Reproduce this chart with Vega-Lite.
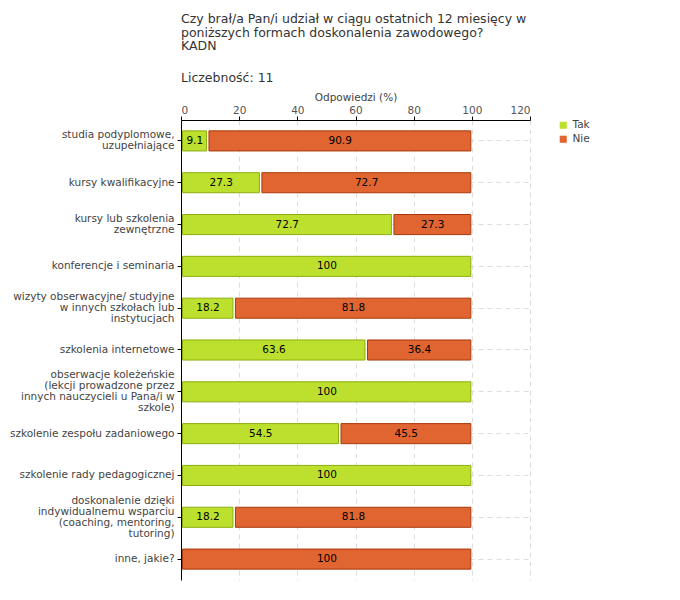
{
  "$schema": "https://vega.github.io/schema/vega-lite/v6.json",
  "autosize": {"type": "none"},
  "padding": {"left": 181, "top": 120, "right": 150, "bottom": 20},
  "width": 349,
  "height": 460,
  "background": "white",
  "config": {
    "font": "DejaVu Sans",
    "view": {"stroke": null}
  },
  "title": {
    "text": ["Czy brał/a Pan/i udział w ciągu ostatnich 12 miesięcy w", "poniższych formach doskonalenia zawodowego?", "\u00a0KADN"],
    "subtitle": "Liczebność: 11",
    "anchor": "start",
    "frame": "group",
    "font": "DejaVu Sans",
    "fontSize": 12.5,
    "fontWeight": "normal",
    "color": "#333333",
    "lineHeight": 13.5,
    "subtitleFont": "DejaVu Sans",
    "subtitleFontSize": 12.5,
    "subtitleColor": "#333333",
    "subtitlePadding": 19,
    "offset": 8
  },
  "data": {
    "values": [
      {"kategoria": "studia podyplomowe,|uzupełniające", "odpowiedz": "Tak", "kolejnosc": 1, "wartosc": 9.1},
      {"kategoria": "studia podyplomowe,|uzupełniające", "odpowiedz": "Nie", "kolejnosc": 2, "wartosc": 90.9},
      {"kategoria": "kursy kwalifikacyjne", "odpowiedz": "Tak", "kolejnosc": 1, "wartosc": 27.3},
      {"kategoria": "kursy kwalifikacyjne", "odpowiedz": "Nie", "kolejnosc": 2, "wartosc": 72.7},
      {"kategoria": "kursy lub szkolenia|zewnętrzne", "odpowiedz": "Tak", "kolejnosc": 1, "wartosc": 72.7},
      {"kategoria": "kursy lub szkolenia|zewnętrzne", "odpowiedz": "Nie", "kolejnosc": 2, "wartosc": 27.3},
      {"kategoria": "konferencje i seminaria", "odpowiedz": "Tak", "kolejnosc": 1, "wartosc": 100},
      {"kategoria": "wizyty obserwacyjne/ studyjne|w innych szkołach lub|instytucjach", "odpowiedz": "Tak", "kolejnosc": 1, "wartosc": 18.2},
      {"kategoria": "wizyty obserwacyjne/ studyjne|w innych szkołach lub|instytucjach", "odpowiedz": "Nie", "kolejnosc": 2, "wartosc": 81.8},
      {"kategoria": "szkolenia internetowe", "odpowiedz": "Tak", "kolejnosc": 1, "wartosc": 63.6},
      {"kategoria": "szkolenia internetowe", "odpowiedz": "Nie", "kolejnosc": 2, "wartosc": 36.4},
      {"kategoria": "obserwacje koleżeńskie|(lekcji prowadzone przez|innych nauczycieli u Pana/i w|szkole)", "odpowiedz": "Tak", "kolejnosc": 1, "wartosc": 100},
      {"kategoria": "szkolenie zespołu zadaniowego", "odpowiedz": "Tak", "kolejnosc": 1, "wartosc": 54.5},
      {"kategoria": "szkolenie zespołu zadaniowego", "odpowiedz": "Nie", "kolejnosc": 2, "wartosc": 45.5},
      {"kategoria": "szkolenie rady pedagogicznej", "odpowiedz": "Tak", "kolejnosc": 1, "wartosc": 100},
      {"kategoria": "doskonalenie dzięki|indywidualnemu wsparciu|(coaching, mentoring,|tutoring)", "odpowiedz": "Tak", "kolejnosc": 1, "wartosc": 18.2},
      {"kategoria": "doskonalenie dzięki|indywidualnemu wsparciu|(coaching, mentoring,|tutoring)", "odpowiedz": "Nie", "kolejnosc": 2, "wartosc": 81.8},
      {"kategoria": "inne, jakie?", "odpowiedz": "Nie", "kolejnosc": 2, "wartosc": 100}
    ]
  },
  "transform": [
    {"stack": "wartosc", "groupby": ["kategoria"], "sort": [{"field": "kolejnosc", "order": "ascending"}], "as": ["x0", "x1"]},
    {"calculate": "(datum.x0 + datum.x1) / 2", "as": "srodek"}
  ],
  "encoding": {
    "y": {
      "field": "kategoria",
      "type": "nominal",
      "sort": null,
      "title": null,
      "scale": {"paddingInner": 0.52, "paddingOuter": 0.26},
      "axis": {
        "labelExpr": "split(datum.label, '|')",
        "labelFont": "DejaVu Sans",
        "labelFontSize": 10.5,
        "labelColor": "#444444",
        "labelLineHeight": 11,
        "labelLimit": 200,
        "labelPadding": 3,
        "labelOffset": {
          "condition": [
            {"test": "length(split(datum.label, '|')) == 2", "value": -5.5},
            {"test": "length(split(datum.label, '|')) == 3", "value": -11},
            {"test": "length(split(datum.label, '|')) == 4", "value": -16.5}
          ],
          "value": 0
        },
        "tickSize": 4,
        "tickColor": "#000000",
        "domainColor": "#000000",
        "domainWidth": 1,
        "grid": true,
        "gridColor": "#dddddd",
        "gridDash": [5, 4],
        "gridWidth": 1
      }
    }
  },
  "layer": [
    {
      "mark": {"type": "bar", "strokeWidth": 1, "xOffset": 1.5, "x2Offset": -1},
      "encoding": {
        "x": {
          "field": "x0",
          "type": "quantitative",
          "scale": {"domain": [0, 120], "nice": false},
          "title": "Odpowiedzi (%)",
          "axis": {
            "orient": "top",
            "values": [0, 10, 20, 30, 40, 50, 60, 70, 80, 90, 100, 110, 120],
            "labelExpr": "datum.value % 20 == 0 ? datum.label : ''",
            "labelFont": "DejaVu Sans",
            "labelFontSize": 10.5,
            "labelColor": "#555555",
            "labelPadding": 1,
            "titleFont": "DejaVu Sans",
            "titleFontSize": 10.5,
            "titleFontWeight": "normal",
            "titleColor": "#444444",
            "titlePadding": 3,
            "domainColor": "#000000",
            "domainWidth": 1,
            "tickColor": {"condition": {"test": "datum.value % 20 != 0", "value": "#ff0000"}, "value": "#000000"},
            "tickSize": {"condition": {"test": "datum.value % 20 != 0", "value": 3}, "value": 4},
            "grid": true,
            "gridColor": {"condition": {"test": "datum.value % 20 != 0 || datum.value == 0", "value": "transparent"}, "value": "#dddddd"},
            "gridDash": [5, 4],
            "gridWidth": 1
          }
        },
        "x2": {"field": "x1"},
        "color": {
          "field": "odpowiedz",
          "type": "nominal",
          "scale": {"domain": ["Tak", "Nie"], "range": ["#bde02e", "#e06530"]},
          "legend": {
            "title": null,
            "orient": "right",
            "offset": 28,
            "symbolType": "square",
            "symbolSize": 50,
            "symbolStrokeWidth": 0,
            "labelFont": "DejaVu Sans",
            "labelFontSize": 10.5,
            "labelColor": "#444444",
            "labelOffset": 4,
            "rowPadding": 3
          }
        },
        "stroke": {
          "field": "odpowiedz",
          "type": "nominal",
          "scale": {"domain": ["Tak", "Nie"], "range": ["#8cae0c", "#a83a0c"]},
          "legend": null
        }
      }
    },
    {
      "mark": {"type": "text", "font": "DejaVu Sans", "fontSize": 10.5, "color": "#000000", "align": "center", "baseline": "middle", "dx": 0.5},
      "encoding": {
        "x": {"field": "srodek", "type": "quantitative"},
        "text": {"field": "wartosc", "type": "quantitative", "format": ".1~f"}
      }
    }
  ]
}
